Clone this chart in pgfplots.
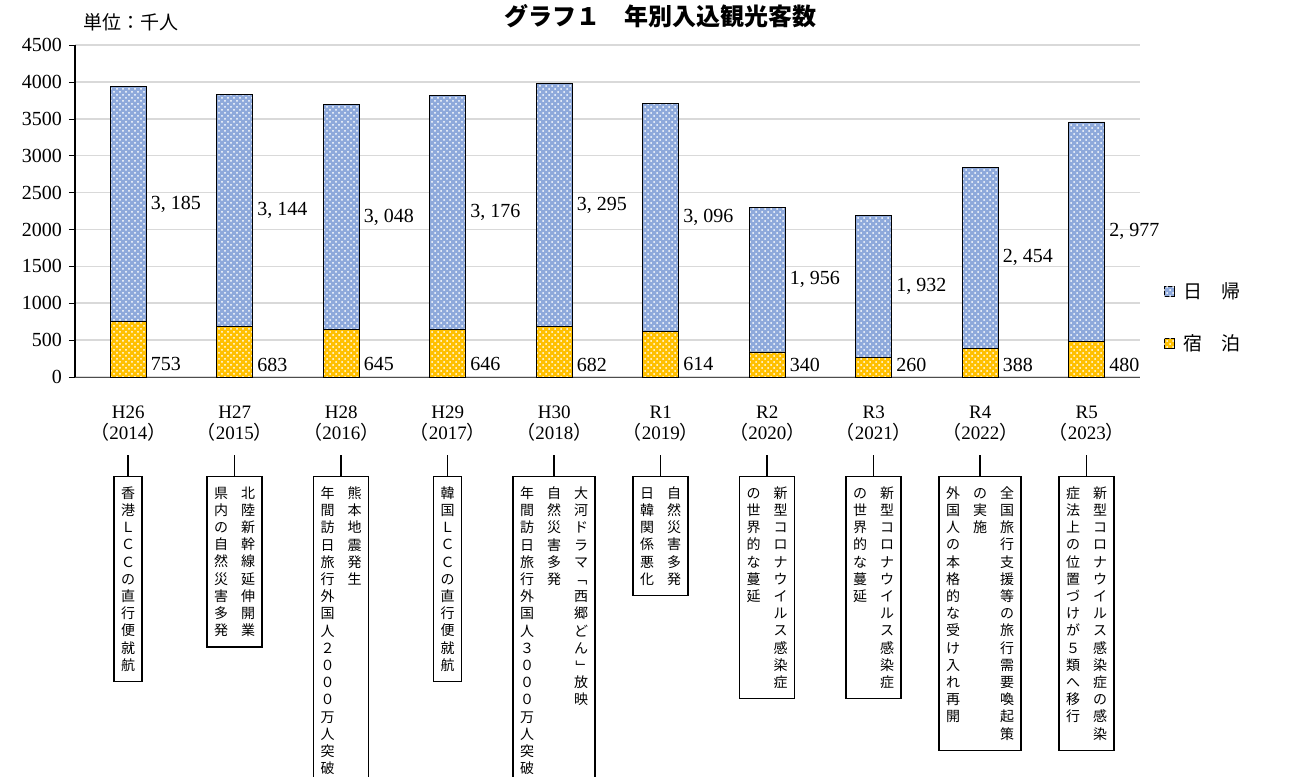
\documentclass[border=0pt]{standalone}
\usepackage{pgfplots}
\pgfplotsset{compat=1.18}
\usetikzlibrary{patterns}
\usepackage{fontspec}
\setmainfont{Liberation Serif}
\newfontfamily\jp{Noto Sans CJK JP}
\ExplSyntaxOn
\cs_new:Npn \vc_char:n #1 { \str_case:nnF {#1} { {ー}{\rotatebox[origin=c]{-90}{ー}} {「}{\rotatebox[origin=c]{-90}{「}} {」}{\rotatebox[origin=c]{-90}{」}} }{#1} }
\NewDocumentCommand\vcol{m}{\vtop{\baselineskip=8.6pt\lineskiplimit=-20pt\tl_map_inline:nn {#1}{\hbox to 8pt{\hss\vc_char:n {##1}\hss}}}}
\ExplSyntaxOff
\definecolor{blu}{HTML}{8EA9DB}
\definecolor{yel}{HTML}{FFC000}
\begin{document}
\begin{tikzpicture}
\useasboundingbox (0,0) rectangle (647pt,-388pt);
\begin{axis}[
  at={(37.5pt,-188.5pt)}, anchor=south west,
  width=532.5pt, height=166pt, scale only axis,
  ybar stacked, bar width=18pt,
  xmin=-0.5, xmax=9.5, ymin=0, ymax=4500,
  ytick={0,500,...,4500},
  xtick={0,...,9},
  xticklabels={H26\\{\jp（}2014{\jp）},H27\\{\jp（}2015{\jp）},H28\\{\jp（}2016{\jp）},H29\\{\jp（}2017{\jp）},H30\\{\jp（}2018{\jp）},R1\\{\jp（}2019{\jp）},R2\\{\jp（}2020{\jp）},R3\\{\jp（}2021{\jp）},R4\\{\jp（}2022{\jp）},R5\\{\jp（}2023{\jp）}},
  x tick label style={align=center, font=\fontsize{9.5}{10.5}\selectfont, yshift=-8pt},
  y tick label style={font=\fontsize{10}{11}\selectfont},
  /pgf/number format/assume math mode=true,
  scaled y ticks=false,
  yticklabel style={/pgf/number format/1000 sep={}},
  axis x line*=bottom, axis y line*=left,
  x axis line style={draw=black!70},
  y axis line style={draw=black, line width=0.8pt},
  ytick style={draw=black}, xtick style={draw=none},
  tick align=outside, major tick length=3pt,
  ymajorgrids, grid style={gray!30, line width=0.8pt},
  clip=false,
]
\addplot[fill=yel, draw=black, postaction={pattern=crosshatch dots, pattern color=white}] coordinates {(0,753)(1,683)(2,645)(3,646)(4,682)(5,614)(6,340)(7,260)(8,388)(9,480)};
\addplot[fill=blu, draw=black, postaction={pattern=crosshatch dots, pattern color=white}] coordinates {(0,3185)(1,3144)(2,3048)(3,3176)(4,3295)(5,3096)(6,1956)(7,1932)(8,2454)(9,2977)};
\foreach \i/\a/\b/\t in {0/753/3185/{3, 185},1/683/3144/{3, 144},2/645/3048/{3, 048},3/646/3176/{3, 176},4/682/3295/{3, 295},5/614/3096/{3, 096},6/340/1956/{1, 956},7/260/1932/{1, 932},8/388/2454/{2, 454},9/480/2977/{2, 977}}{
  \edef\tmp{\noexpand\node[anchor=west, font=\noexpand\fontsize{10}{12}\noexpand\selectfont, inner sep=1pt] at (axis cs:\i+0.19,{\a+\b/2}) {\t};
  \noexpand\node[anchor=west, font=\noexpand\fontsize{10}{12}\noexpand\selectfont, inner sep=1pt] at (axis cs:\i+0.19,170) {\a};}
  \tmp
}
\end{axis}
\node[font=\jp\bfseries\fontsize{12}{14}\selectfont] at (330pt,-8pt) {グラフ１　年別入込観光客数};
\node[font=\jp\fontsize{9.5}{11}\selectfont, anchor=west] at (38pt,-11pt) {単位：千人};
% legend
\draw[fill=blu, postaction={pattern=crosshatch dots, pattern color=white}] (582pt,-143pt) rectangle (587pt,-148pt);
\node[font=\jp\fontsize{9.5}{11}\selectfont, anchor=west] at (588pt,-145.5pt) {日　帰};
\draw[fill=yel, postaction={pattern=crosshatch dots, pattern color=white}] (582pt,-169pt) rectangle (587pt,-174pt);
\node[font=\jp\fontsize{9.5}{11}\selectfont, anchor=west] at (588pt,-171.5pt) {宿　泊};
% annotation boxes
\tikzset{ann/.style={draw, line width=0.6pt, anchor=north, inner xsep=3pt, inner ysep=5pt, font=\jp\fontsize{7}{9}\selectfont}}
\foreach \i/\txt in {
0/{\vcol{香港ＬＣＣの直行便就航}},
1/{\vcol{県内の自然災害多発}\hspace{5.5pt}\vcol{北陸新幹線延伸開業}},
2/{\vcol{年間訪日旅行外国人２０００万人突破}\hspace{5.5pt}\vcol{熊本地震発生}},
3/{\vcol{韓国ＬＣＣの直行便就航}},
4/{\vcol{年間訪日旅行外国人３０００万人突破}\hspace{5.5pt}\vcol{自然災害多発}\hspace{5.5pt}\vcol{大河ドラマ「西郷どん」放映}},
5/{\vcol{日韓関係悪化}\hspace{5.5pt}\vcol{自然災害多発}},
6/{\vcol{の世界的な蔓延}\hspace{5.5pt}\vcol{新型コロナウイルス感染症}},
7/{\vcol{の世界的な蔓延}\hspace{5.5pt}\vcol{新型コロナウイルス感染症}},
8/{\vcol{外国人の本格的な受け入れ再開}\hspace{5.5pt}\vcol{の実施}\hspace{5.5pt}\vcol{全国旅行支援等の旅行需要喚起策}},
9/{\vcol{症法上の位置づけが５類へ移行}\hspace{5.5pt}\vcol{新型コロナウイルス感染症の感染}}}{
  \pgfmathsetmacro{\xx}{64+53.25*\i}
  \draw[line width=0.6pt] (\xx pt,-227.5pt) -- (\xx pt,-238pt);
  \node[ann] at (\xx pt,-238pt) {\txt};
}
\end{tikzpicture}
\end{document}
